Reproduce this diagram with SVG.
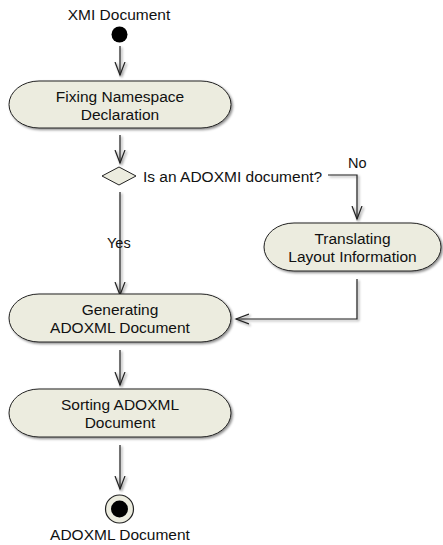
<svg xmlns="http://www.w3.org/2000/svg" width="443" height="545" viewBox="0 0 443 545">
<defs>
<marker id="arr" markerWidth="16" markerHeight="16" refX="13" refY="8" orient="auto" markerUnits="userSpaceOnUse">
<path d="M0,3 L13,8 L0,13" fill="none" stroke="#222" stroke-width="1.2"/>
</marker>
<filter id="sh" x="-10%" y="-10%" width="130%" height="140%">
<feDropShadow dx="1.5" dy="1.5" stdDeviation="0.8" flood-color="#000" flood-opacity="0.45"/>
</filter>
</defs>
<style>
text{font-family:"Liberation Sans",Arial,sans-serif;font-size:15.5px;fill:#111}
.lbl{font-size:14.5px}
.act{fill:#ECECDF;stroke:#222;stroke-width:1}
.c{fill:none;stroke:#222;stroke-width:1.2;marker-end:url(#arr)}
</style>
<rect width="443" height="545" fill="#fff"/>
<g id="connectors" filter="url(#sh)">
<path class="c" d="M120,46 V75"/>
<path class="c" d="M120,135 V163"/>
<path class="c" d="M120,192 V295"/>
<path class="c" d="M328,175 H357 V219"/>
<path class="c" d="M357,279 V319 H236"/>
<path class="c" d="M120,350 V385"/>
<path class="c" d="M120,445 V489"/>
</g>
<g id="start">
<text x="119" y="20" text-anchor="middle">XMI Document</text>
<circle cx="119.5" cy="34.5" r="8" fill="#000"/>
</g>
<g id="fixing">
<rect class="act" x="9" y="81" width="222" height="47" rx="30" ry="23.5" filter="url(#sh)"/>
<text x="120" y="102" text-anchor="middle">Fixing Namespace</text>
<text x="120" y="119.5" text-anchor="middle">Declaration</text>
</g>
<g id="decision">
<polygon points="102,176 119,167 136,176 119,185" fill="#ECECDF" stroke="#222" stroke-width="1"/>
<text x="143" y="181.5">Is an ADOXMI document?</text>
</g>
<g id="labels">
<text class="lbl" x="348" y="168">No</text>
<text class="lbl" x="107" y="248">Yes</text>
</g>
<g id="translating">
<rect class="act" x="264" y="223" width="177" height="48" rx="30" ry="24" filter="url(#sh)"/>
<text x="352.5" y="243.5" text-anchor="middle">Translating</text>
<text x="352.5" y="261.5" text-anchor="middle">Layout Information</text>
</g>
<g id="generating">
<rect class="act" x="9" y="294" width="222" height="48" rx="30" ry="24" filter="url(#sh)"/>
<text x="120" y="314.5" text-anchor="middle">Generating</text>
<text x="120" y="333" text-anchor="middle">ADOXML Document</text>
</g>
<g id="sorting">
<rect class="act" x="9" y="389" width="222" height="48" rx="30" ry="24" filter="url(#sh)"/>
<text x="120" y="409.5" text-anchor="middle">Sorting ADOXML</text>
<text x="120" y="428" text-anchor="middle">Document</text>
</g>
<g id="end">
<circle cx="119.5" cy="509" r="14" fill="#ECECDF" stroke="#222" stroke-width="1.2"/>
<circle cx="119.5" cy="509" r="8.5" fill="#000"/>
<text x="120" y="540" text-anchor="middle">ADOXML Document</text>
</g>
</svg>
